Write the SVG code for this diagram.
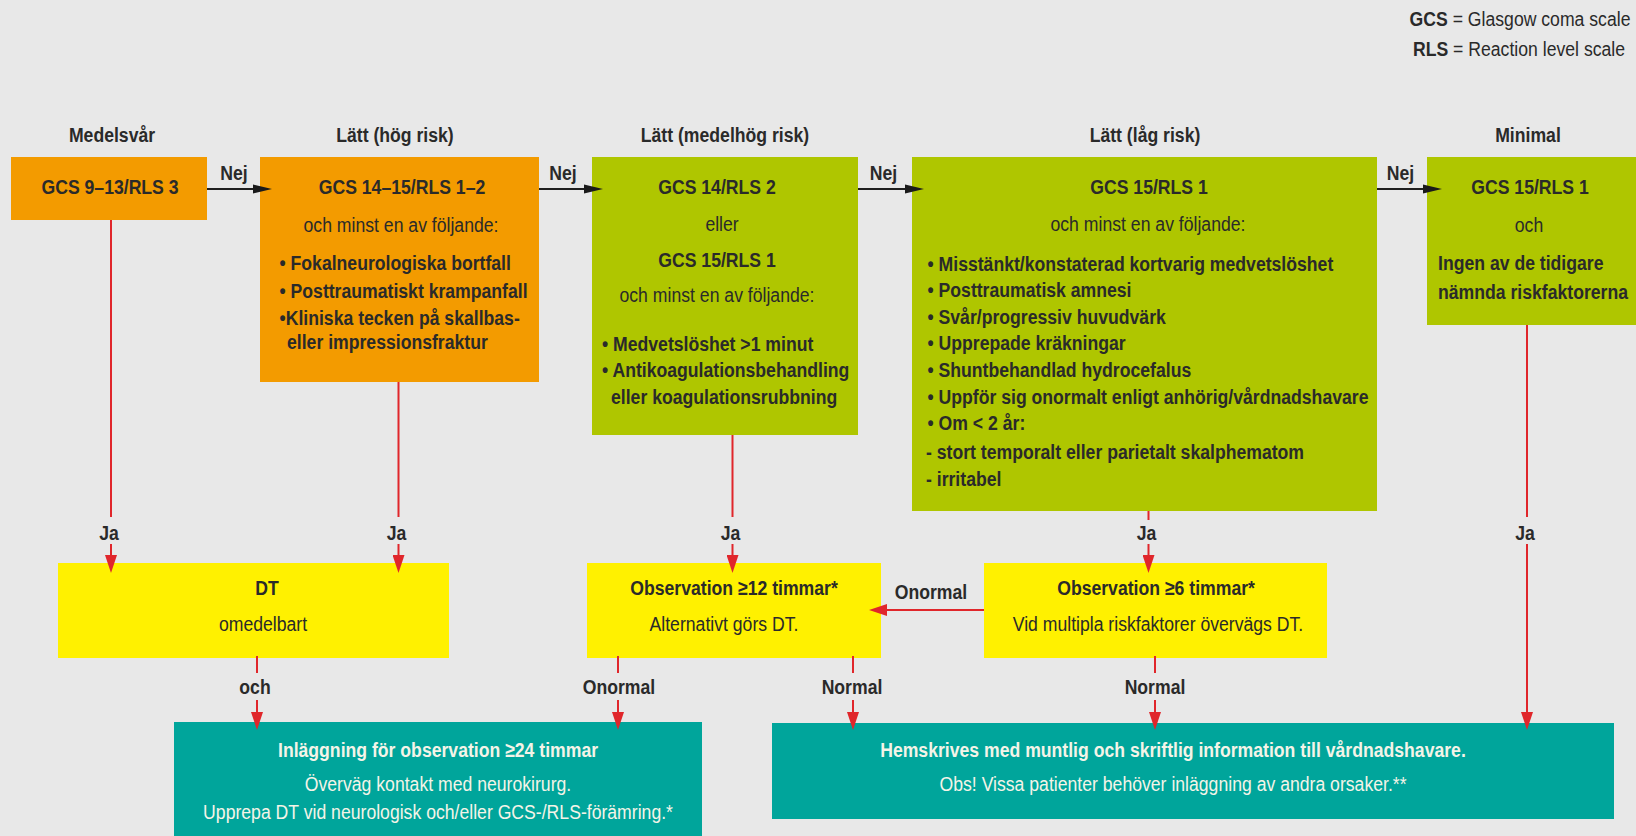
<svg xmlns="http://www.w3.org/2000/svg" width="1636" height="836" viewBox="0 0 1636 836">
<defs>
<style>
text{font-family:"Liberation Sans",Arial,Helvetica,sans-serif;font-size:21px;fill:#2a2a2a;transform-box:fill-box;transform:scaleX(.84)}
.c{text-anchor:middle;transform-origin:50% 50%}
.l{text-anchor:start;transform-origin:0% 50%}
.b{font-weight:700}
.r{font-weight:400}
.w{fill:#f4f4e8}
.orange{fill:#f39b00}
.green{fill:#afc600}
.yellow{fill:#fff100}
.teal{fill:#00a59b}
.red{stroke:#e0262b;stroke-width:2;fill:none}
.blk{stroke:#1f1f1f;stroke-width:2;fill:none}
</style>
<marker id="ahr" markerUnits="userSpaceOnUse" markerWidth="18" markerHeight="12" refX="12" refY="6" orient="auto"><path d="M0,0 L18,6 L0,12 z" fill="#e0262b"/></marker>
<marker id="ahb" markerUnits="userSpaceOnUse" markerWidth="19" markerHeight="10" refX="13" refY="5" orient="auto"><path d="M0,0.5 L19,5 L0,9.5 z" fill="#1a1a1a"/></marker>
</defs>
<rect x="0" y="0" width="1636" height="836" fill="#e8e8e8"/>

<g id="legend">
<text class="c r" x="1520" y="26"><tspan class="b">GCS</tspan> = Glasgow coma scale</text>
<text class="c r" x="1519" y="56.5"><tspan class="b">RLS</tspan> = Reaction level scale</text>
</g>

<g id="headings">
<text class="c b" x="112" y="142.5">Medelsvår</text>
<text class="c b" x="395" y="142.5">Lätt (hög risk)</text>
<text class="c b" x="725" y="142.5">Lätt (medelhög risk)</text>
<text class="c b" x="1145" y="142.5">Lätt (låg risk)</text>
<text class="c b" x="1528" y="142.5">Minimal</text>
</g>

<g id="medelsvar">
<rect class="orange" x="11" y="157" width="196" height="63"/>
<text class="c b" x="110" y="194.5">GCS 9–13/RLS 3</text>
</g>

<g id="latt-hog">
<rect class="orange" x="260" y="157" width="279" height="225"/>
<text class="c b" x="402" y="194.5">GCS 14–15/RLS 1–2</text>
<text class="c r" x="401" y="232.5">och minst en av följande:</text>
<text class="l b" x="279.5" y="270.5">• Fokalneurologiska bortfall</text>
<text class="l b" x="279.5" y="298.5">• Posttraumatiskt krampanfall</text>
<text class="l b" x="279.5" y="325.5">•Kliniska tecken på skallbas-</text>
<text class="l b" x="287" y="349.5">eller impressionsfraktur</text>
</g>

<g id="latt-medelhog">
<rect class="green" x="592" y="157" width="266" height="278"/>
<text class="c b" x="717" y="194.5">GCS 14/RLS 2</text>
<text class="c r" x="722" y="231.5">eller</text>
<text class="c b" x="717" y="267">GCS 15/RLS 1</text>
<text class="c r" x="717" y="302.5">och minst en av följande:</text>
<text class="l b" x="602" y="351">• Medvetslöshet &gt;1 minut</text>
<text class="l b" x="602" y="377.5">• Antikoagulationsbehandling</text>
<text class="l b" x="611" y="404">eller koagulationsrubbning</text>
</g>

<g id="latt-lag">
<rect class="green" x="912" y="157" width="465" height="354"/>
<text class="c b" x="1149" y="194.5">GCS 15/RLS 1</text>
<text class="c r" x="1148" y="231.5">och minst en av följande:</text>
<text class="l b" x="927.5" y="271">• Misstänkt/konstaterad kortvarig medvetslöshet</text>
<text class="l b" x="927.5" y="297.5">• Posttraumatisk amnesi</text>
<text class="l b" x="927.5" y="324">• Svår/progressiv huvudvärk</text>
<text class="l b" x="927.5" y="350.5">• Upprepade kräkningar</text>
<text class="l b" x="927.5" y="377.5">• Shuntbehandlad hydrocefalus</text>
<text class="l b" x="927.5" y="404">• Uppför sig onormalt enligt anhörig/vårdnadshavare</text>
<text class="l b" x="927.5" y="430.5">• Om &lt; 2 år:</text>
<text class="l b" x="926" y="459">- stort temporalt eller parietalt skalphematom</text>
<text class="l b" x="926" y="486">- irritabel</text>
</g>

<g id="minimal">
<rect class="green" x="1427" y="157" width="209" height="168"/>
<text class="c b" x="1530" y="194.5">GCS 15/RLS 1</text>
<text class="c r" x="1529" y="232.5">och</text>
<text class="l b" x="1438" y="270.5">Ingen av de tidigare</text>
<text class="l b" x="1438" y="299">nämnda riskfaktorerna</text>
</g>

<g id="dt">
<rect class="yellow" x="58" y="563" width="391" height="95"/>
<text class="c b" x="267" y="595.5">DT</text>
<text class="c r" x="263" y="631.5">omedelbart</text>
</g>

<g id="obs12">
<rect class="yellow" x="587" y="563" width="294" height="95"/>
<text class="c b" x="734" y="595.5">Observation ≥12 timmar*</text>
<text class="c r" x="724" y="631.5">Alternativt görs DT.</text>
</g>

<g id="obs6">
<rect class="yellow" x="984" y="563" width="343" height="95"/>
<text class="c b" x="1156" y="595.5">Observation ≥6 timmar*</text>
<text class="c r" x="1158" y="631.5">Vid multipla riskfaktorer övervägs DT.</text>
</g>

<g id="inlaggning">
<rect class="teal" x="174" y="722" width="528" height="114"/>
<text class="c b w" x="438" y="757.5">Inläggning för observation ≥24 timmar</text>
<text class="c r w" x="438" y="791.5">Överväg kontakt med neurokirurg.</text>
<text class="c r w" x="438" y="819">Upprepa DT vid neurologisk och/eller GCS-/RLS-förämring.*</text>
</g>

<g id="hemskrivning">
<rect class="teal" x="772" y="723" width="842" height="96"/>
<text class="c b w" x="1173" y="757.5">Hemskrives med muntlig och skriftlig information till vårdnadshavare.</text>
<text class="c r w" x="1173" y="791.5">Obs! Vissa patienter behöver inläggning av andra orsaker.**</text>
</g>

<g id="connectors">
<line class="blk" x1="207" y1="189" x2="266" y2="189" marker-end="url(#ahb)"/>
<line class="blk" x1="539" y1="189" x2="597" y2="189" marker-end="url(#ahb)"/>
<line class="blk" x1="858" y1="189" x2="918" y2="189" marker-end="url(#ahb)"/>
<line class="blk" x1="1377" y1="189" x2="1436" y2="189" marker-end="url(#ahb)"/>
<path class="red" d="M111,220 V517"/>
<path class="red" d="M111,544 V567" marker-end="url(#ahr)"/>
<path class="red" d="M398.5,382 V517"/>
<path class="red" d="M398.5,544 V567" marker-end="url(#ahr)"/>
<path class="red" d="M732.5,435 V517"/>
<path class="red" d="M732.5,544 V567" marker-end="url(#ahr)"/>
<path class="red" d="M1148.5,511 V520"/>
<path class="red" d="M1148.5,544 V567" marker-end="url(#ahr)"/>
<path class="red" d="M1527,325 V517"/>
<path class="red" d="M1527,544 V724" marker-end="url(#ahr)"/>
<path class="red" d="M257,656 V673"/>
<path class="red" d="M257,700 V724" marker-end="url(#ahr)"/>
<path class="red" d="M618,656 V673"/>
<path class="red" d="M618,700 V724" marker-end="url(#ahr)"/>
<path class="red" d="M853,656 V673"/>
<path class="red" d="M853,700 V724" marker-end="url(#ahr)"/>
<path class="red" d="M1155,656 V673"/>
<path class="red" d="M1155,700 V724" marker-end="url(#ahr)"/>
<path class="red" d="M984,610 H875" marker-end="url(#ahr)"/>
<text class="c b" x="234" y="180">Nej</text>
<text class="c b" x="563" y="180">Nej</text>
<text class="c b" x="883.5" y="180">Nej</text>
<text class="c b" x="1400.5" y="180">Nej</text>
<text class="c b" x="109" y="540.5">Ja</text>
<text class="c b" x="396.5" y="540.5">Ja</text>
<text class="c b" x="730.5" y="540.5">Ja</text>
<text class="c b" x="1146.5" y="540.5">Ja</text>
<text class="c b" x="1525" y="540.5">Ja</text>
<text class="c b" x="931" y="599.5">Onormal</text>
<text class="c b" x="255" y="694.5">och</text>
<text class="c b" x="619" y="694.5">Onormal</text>
<text class="c b" x="852" y="694.5">Normal</text>
<text class="c b" x="1155" y="694.5">Normal</text>
</g>
</svg>
